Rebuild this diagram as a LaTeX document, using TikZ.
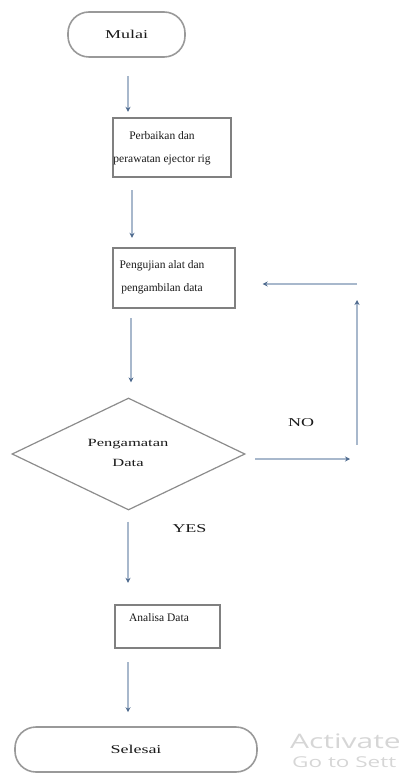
\documentclass[tikz,border=0pt]{standalone}
\usepackage{graphicx}
\usepackage{fontspec}
\setmainfont{Liberation Serif}
\newfontfamily\winfont{Open Sans}
\usetikzlibrary{arrows.meta,shapes.geometric}
\definecolor{EdgeClr}{rgb}{0.5,0.5,0.5}
\definecolor{FlowClr}{rgb}{0.66,0.72,0.80}
\definecolor{TipClr}{rgb}{0.31,0.42,0.56}
\definecolor{MarkClr}{rgb}{0.84,0.84,0.84}

\newcommand{\wide}[1]{\scalebox{1.5}[1]{#1}}

\tikzset{
  terminal/.style={draw=EdgeClr!80,line width=1.6pt,rounded corners=21pt,
    minimum height=45pt,inner sep=0pt,text=black!90,font=\fontsize{12}{14}\selectfont},
  procbox/.style={draw=EdgeClr,line width=2.4pt,inner sep=0pt},
  decision/.style={draw=EdgeClr!90,line width=1.2pt,diamond,aspect=2.08,
    minimum width=233pt,minimum height=112pt,inner sep=0pt},
  boxtext/.style={font=\fontsize{11.5}{23}\selectfont,align=center,text=black!90,inner sep=0pt},
  lbl/.style={font=\fontsize{12}{14}\selectfont,text=black!90,inner sep=0pt},
  flow/.style={draw=FlowClr,line width=1.8pt,-{Stealth[length=5pt,width=5pt,color=TipClr]}}
}

\begin{document}
\begin{tikzpicture}[x=1pt,y=-1pt]
\useasboundingbox (0,0) rectangle (409,775);

\node[terminal,minimum width=117pt] (mulai) at (126.5,34.5) {\wide{Mulai}};

\node[procbox,minimum width=118pt,minimum height=59pt] (perbaikan) at (172,147.5) {};
\node[boxtext] (perbaikantxt) at (162,148.5) {Perbaikan dan\\perawatan ejector rig};

\node[procbox,minimum width=122pt,minimum height=60pt] (pengujian) at (174,278) {};
\node[boxtext] (pengujiantxt) at (162,277.5) {Pengujian alat dan\\pengambilan data};

\node[decision] (cek) at (128.5,454) {};
\node[boxtext,font=\fontsize{11}{20}\selectfont] (cektxt) at (128,453) {\wide{Pengamatan}\\\wide{Data}};

\node[procbox,minimum width=105pt,minimum height=43pt] (analisa) at (167.5,626.5) {};
\node[boxtext] (analisatxt) at (159,618) {Analisa Data};

\node[terminal,minimum width=242pt] (selesai) at (136,749.5) {\wide{Selesai}};

\node[lbl] (no) at (301,423) {\wide{NO}};
\node[lbl] (yes) at (189.5,529) {\wide{YES}};

% main line
\draw[flow,shorten <=18pt,shorten >=5pt] (mulai.south -| 128,0) -- (perbaikan.north -| 128,0);
\draw[flow,shorten <=12pt,shorten >=9pt] (perbaikan.south -| 132,0) -- (pengujian.north -| 132,0);
\draw[flow,shorten <=9pt,shorten >=15pt] (pengujian.south -| 131,0) -- (cek.north -| 131,0);
\draw[flow,shorten <=11pt,shorten >=21pt] (cek.south -| 128,0) -- (analisa.north -| 128,0);
\draw[flow,shorten <=13pt,shorten >=14pt] (analisa.south -| 128,0) -- (selesai.north -| 128,0);

% loop back
\coordinate (noend) at (350,459);
\coordinate (loopfoot) at (357,445);
\coordinate (looptop) at (357,300);
\coordinate (loopcorner) at (357,284);
\draw[flow,shorten <=9.5pt] (cek.east |- noend) -- (noend);
\draw[flow] (loopfoot) -- (looptop);
\draw[flow,shorten >=26.5pt] (loopcorner) -- (pengujian.east |- loopcorner);

\node[anchor=west,text=MarkClr,font=\winfont\fontsize{20}{22}\selectfont,inner sep=0pt]
  (activate) at (290,741) {\scalebox{1.5}[1]{Activate}};
\node[anchor=west,text=MarkClr,font=\winfont\fontsize{15}{17}\selectfont,inner sep=0pt]
  (gosettings) at (292,762) {\scalebox{1.5}[1]{Go to Sett}};
\end{tikzpicture}
\end{document}
